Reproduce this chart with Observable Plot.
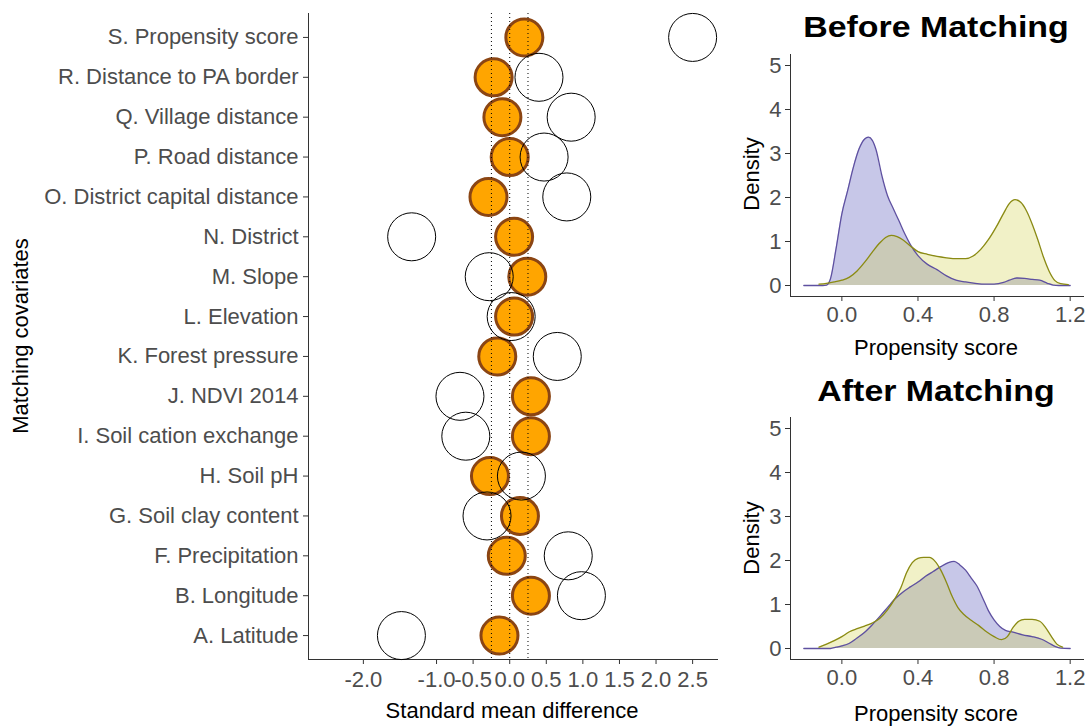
<!DOCTYPE html>
<html>
<head>
<meta charset="utf-8">
<script src="https://cdn.jsdelivr.net/npm/d3@7"></script>
<script src="https://cdn.jsdelivr.net/npm/@observablehq/plot@0.6"></script>
<style>
  html, body { margin: 0; padding: 0; background: #fff; }
  #fig { position: relative; width: 1089px; height: 726px; overflow: hidden;
         font-family: "Liberation Sans", Arial, sans-serif; }
  .panel { position: absolute; }
  .lbl { position: absolute; white-space: nowrap; font-size: 22px; line-height: 22px; color: #000; }
  .ttl { position: absolute; white-space: nowrap; font-size: 30px; line-height: 30px; font-weight: bold; color: #000; }
  svg g[aria-label$="tick label"] text { fill: #4d4d4d; }
</style>
</head>
<body>
<div id="fig">
  <div class="panel" id="smd" style="left:0;top:0"></div>
  <div class="panel" id="before" style="left:730px;top:0"></div>
  <div class="panel" id="after" style="left:730px;top:360px"></div>

  <div class="lbl" style="left:21px;top:336px;transform:translate(-50%,-50%) rotate(-90deg)">Matching covariates</div>
  <div class="lbl" style="left:512px;top:711px;transform:translate(-50%,-50%)">Standard mean difference</div>

  <div class="ttl" style="left:936px;top:27px;transform:translate(-50%,-50%) scaleX(1.13)">Before Matching</div>
  <div class="lbl" style="left:752px;top:174px;transform:translate(-50%,-50%) rotate(-90deg)">Density</div>
  <div class="lbl" style="left:936px;top:348px;transform:translate(-50%,-50%)">Propensity score</div>

  <div class="ttl" style="left:936px;top:391px;transform:translate(-50%,-50%) scaleX(1.13)">After Matching</div>
  <div class="lbl" style="left:752px;top:538px;transform:translate(-50%,-50%) rotate(-90deg)">Density</div>
  <div class="lbl" style="left:936px;top:714px;transform:translate(-50%,-50%)">Propensity score</div>
</div>
<script>
// Covariates, listed top to bottom
const covariates = [
  "S. Propensity score", "R. Distance to PA border", "Q. Village distance",
  "P. Road distance", "O. District capital distance", "N. District",
  "M. Slope", "L. Elevation", "K. Forest pressure", "J. NDVI 2014",
  "I. Soil cation exchange", "H. Soil pH", "G. Soil clay content",
  "F. Precipitation", "B. Longitude", "A. Latitude"
];
// Standardised mean difference of each covariate, before and after matching
const smdBefore = [2.50, 0.40, 0.84, 0.47, 0.78, -1.34, -0.28, 0.02, 0.65, -0.68, -0.60, 0.16, -0.31, 0.80, 0.98, -1.48];
const smdAfter  = [0.20, -0.22, -0.10, 0.00, -0.29, 0.06, 0.24, 0.06, -0.17, 0.29, 0.29, -0.27, 0.14, -0.04, 0.29, -0.14];
const smdTicks = [-2, -1, -0.5, 0, 0.5, 1, 1.5, 2, 2.5];
const balanceLines = [-0.25, 0, 0.25];

// Propensity score densities (control = purple, treated = yellow)
const beforeControlX = [-0.20,-0.10,-0.08,-0.06,-0.03,0.00,0.03,0.06,0.09,0.12,0.14,0.16,0.18,0.21,0.24,0.27,0.30,0.33,0.36,0.40,0.45,0.50,0.55,0.60,0.65,0.70,0.75,0.80,0.85,0.88,0.92,0.96,1.00,1.04,1.08,1.11,1.14,1.20];
const beforeControlD = [0,0,0.01,0.15,0.85,1.63,2.15,2.68,3.10,3.33,3.37,3.30,3.08,2.50,2.04,1.75,1.47,1.18,0.93,0.68,0.48,0.36,0.22,0.12,0.08,0.05,0.03,0.03,0.07,0.12,0.17,0.16,0.14,0.12,0.05,0.01,0,0];
const beforeTreatedX = [-0.12,-0.08,-0.04,0.00,0.04,0.08,0.12,0.16,0.20,0.23,0.26,0.29,0.32,0.36,0.40,0.45,0.50,0.55,0.60,0.65,0.69,0.73,0.77,0.81,0.85,0.88,0.91,0.94,0.97,1.00,1.03,1.06,1.09,1.12,1.15,1.19];
const beforeTreatedD = [0.03,0.05,0.08,0.12,0.19,0.33,0.53,0.76,0.97,1.09,1.14,1.11,1.04,0.90,0.77,0.71,0.66,0.63,0.61,0.61,0.67,0.82,1.04,1.32,1.64,1.86,1.95,1.89,1.70,1.40,1.04,0.64,0.32,0.11,0.04,0.02];
const afterControlX = [-0.20,-0.06,-0.03,0.00,0.04,0.08,0.12,0.16,0.20,0.24,0.28,0.32,0.36,0.40,0.44,0.48,0.52,0.56,0.59,0.62,0.65,0.68,0.71,0.74,0.77,0.80,0.83,0.86,0.90,0.95,1.00,1.05,1.09,1.12,1.15,1.20];
const afterControlD = [0,0,0.03,0.06,0.12,0.24,0.37,0.54,0.73,0.93,1.13,1.28,1.40,1.51,1.64,1.75,1.86,1.95,1.98,1.90,1.78,1.60,1.42,1.15,0.86,0.65,0.50,0.41,0.37,0.31,0.27,0.21,0.12,0.05,0.01,0];
const afterTreatedX = [-0.12,-0.08,-0.04,0.00,0.04,0.08,0.12,0.16,0.20,0.24,0.28,0.31,0.34,0.37,0.40,0.43,0.46,0.49,0.52,0.55,0.58,0.61,0.64,0.68,0.72,0.76,0.80,0.84,0.87,0.90,0.93,0.96,1.00,1.04,1.07,1.10,1.13,1.16];
const afterTreatedD = [0.03,0.10,0.18,0.27,0.38,0.45,0.51,0.58,0.69,0.88,1.14,1.38,1.72,1.95,2.05,2.07,2.07,1.98,1.78,1.50,1.18,0.93,0.78,0.64,0.52,0.38,0.27,0.20,0.27,0.48,0.62,0.66,0.66,0.62,0.48,0.28,0.10,0.03];
const psTicks = [0, 0.4, 0.8, 1.2];
const densityTicks = [0, 1, 2, 3, 4, 5];

const FONT = '"Liberation Sans", Arial, sans-serif';
const baseStyle = {fontFamily: FONT, fontSize: "22px", color: "#333", background: "transparent", overflow: "visible"};

// Covariate balance dot plot
const rows = covariates.map((c, i) => ({covariate: c, before: smdBefore[i], after: smdAfter[i]}));
const smdPlot = Plot.plot({
  width: 730, height: 726,
  marginLeft: 308, marginRight: 13, marginTop: 13, marginBottom: 67,
  style: baseStyle,
  x: {domain: [-2.75, 2.84], ticks: smdTicks, tickFormat: d => d.toFixed(1), tickSize: 5, tickPadding: 7, line: true, label: null},
  y: {type: "point", domain: covariates, padding: 0.6, round: false, tickSize: 5, tickPadding: 5, line: true, label: null},
  marks: [
    Plot.dot(rows, {x: "after", y: "covariate", r: 18.5, fill: "#ffa500", stroke: "#8b4513", strokeWidth: 3}),
    Plot.ruleX(balanceLines, {stroke: "#000", strokeWidth: 1, strokeDasharray: "1,3"}),
    Plot.dot(rows, {x: "before", y: "covariate", r: 24, fill: "none", stroke: "#000", strokeWidth: 1})
  ]
});
document.getElementById("smd").appendChild(smdPlot);

function toSeries(xs, ds) { return xs.map((x, i) => ({x, d: ds[i]})); }

function densityPlot(control, treated, marginTop, marginBottom, height) {
  return Plot.plot({
    width: 359, height,
    marginLeft: 60, marginRight: 6, marginTop, marginBottom,
    style: baseStyle,
    x: {domain: [-0.27, 1.27], ticks: psTicks, tickFormat: d => d.toFixed(1), tickSize: 5, tickPadding: 5, line: true, label: null},
    y: {domain: [-0.25, 5.25], ticks: densityTicks, tickFormat: d => String(d), tickSize: 5, tickPadding: 4, line: true, label: null},
    marks: [
      Plot.areaY(control, {x: "x", y: "d", fill: "#4646b4", fillOpacity: 0.3, curve: "monotone-x"}),
      Plot.areaY(treated, {x: "x", y: "d", fill: "#d2d246", fillOpacity: 0.3, curve: "monotone-x"}),
      Plot.lineY(control, {x: "x", y: "d", stroke: "#5e50a0", strokeWidth: 1.3, curve: "monotone-x"}),
      Plot.lineY(treated, {x: "x", y: "d", stroke: "#8a8a14", strokeWidth: 1.3, curve: "monotone-x"})
    ]
  });
}

document.getElementById("before").appendChild(
  densityPlot(toSeries(beforeControlX, beforeControlD), toSeries(beforeTreatedX, beforeTreatedD), 54, 64, 360));
document.getElementById("after").appendChild(
  densityPlot(toSeries(afterControlX, afterControlD), toSeries(afterTreatedX, afterTreatedD), 57, 67, 366));
</script>
</body>
</html>
